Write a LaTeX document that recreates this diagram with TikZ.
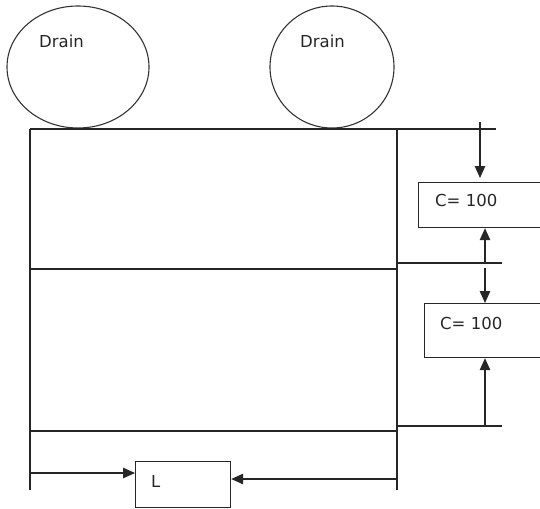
\documentclass[tikz,border=0pt]{standalone}
\usepackage{fontspec}
\setmainfont{DejaVu Sans}
\usetikzlibrary{arrows.meta}
\begin{document}
\begin{tikzpicture}[x=1pt,y=-1pt,
  wire/.style={line width=1.2pt,black!85},
  box/.style={draw=black!85,line width=1.2pt,rectangle,inner sep=0pt},
  lbl/.style={font=\fontsize{16.5}{18}\selectfont,text=black!85,inner sep=0pt},
  arr/.style={wire,-{Triangle[length=12pt,width=10.5pt]}}]
\useasboundingbox (0,0) rectangle (540,508);
\clip (0,0) rectangle (540,508);
% drains
\draw[black!80,line width=1.1pt] (78,67) ellipse [x radius=71,y radius=61];
\draw[black!80,line width=1.1pt] (332,67) ellipse [x radius=62,y radius=61];
\node[lbl,anchor=base west] (d1) at (39,48) {Drain};
\node[lbl,anchor=base west] (d2) at (300,48) {Drain};
% main frame
\coordinate (tl) at (30,129);
\coordinate (tr) at (397,129);
\coordinate (te) at (496,129);
\coordinate (bl) at (30,490);
\coordinate (br) at (397,490);
\draw[wire] (tl) -- (te);
\draw[wire] (tl) -- (bl);
\draw[wire] (tr) -- (br);
\coordinate (m1l) at (30,269);
\coordinate (m1r) at (397,269);
\coordinate (m1a) at (397,263);
\coordinate (m1e) at (502,263);
\draw[wire] (m1l) -- (m1r);
\draw[wire] (m1a) -- (m1e);
\coordinate (m2l) at (30,431);
\coordinate (m2r) at (397,431);
\coordinate (m2a) at (397,426);
\coordinate (m2e) at (502,426);
\draw[wire] (m2l) -- (m2r);
\draw[wire] (m2a) -- (m2e);
% C boxes
\node[box,anchor=north west,minimum width=130pt,minimum height=45pt] (c1) at (418,182) {};
\node[lbl,anchor=base west] (c1t) at (435,206) {C= 100};
\node[box,anchor=north west,minimum width=130pt,minimum height=54pt] (c2) at (424,303) {};
\node[lbl,anchor=base west] (c2t) at (440,329) {C= 100};
% arrows to C boxes
\coordinate (a1) at (480,122);
\draw[arr,shorten >=4pt] (a1) -- (a1 |- c1.north);
\coordinate (a2) at (485,263);
\draw[arr] (a2) -- (a2 |- c1.south);
\coordinate (a3) at (485,268);
\draw[arr] (a3) -- (a3 |- c2.north);
\coordinate (a4) at (485,426);
\draw[arr] (a4) -- (a4 |- c2.south);
% L box
\node[box,anchor=north west,minimum width=95pt,minimum height=46pt] (lb) at (135,461) {};
\node[lbl,anchor=base west] (lt) at (151,487) {L};
\coordinate (l1) at (30,473);
\draw[arr] (l1) -- (l1 -| lb.west);
\coordinate (l2) at (397,479);
\draw[arr] (l2) -- (l2 -| lb.east);
\end{tikzpicture}
\end{document}
